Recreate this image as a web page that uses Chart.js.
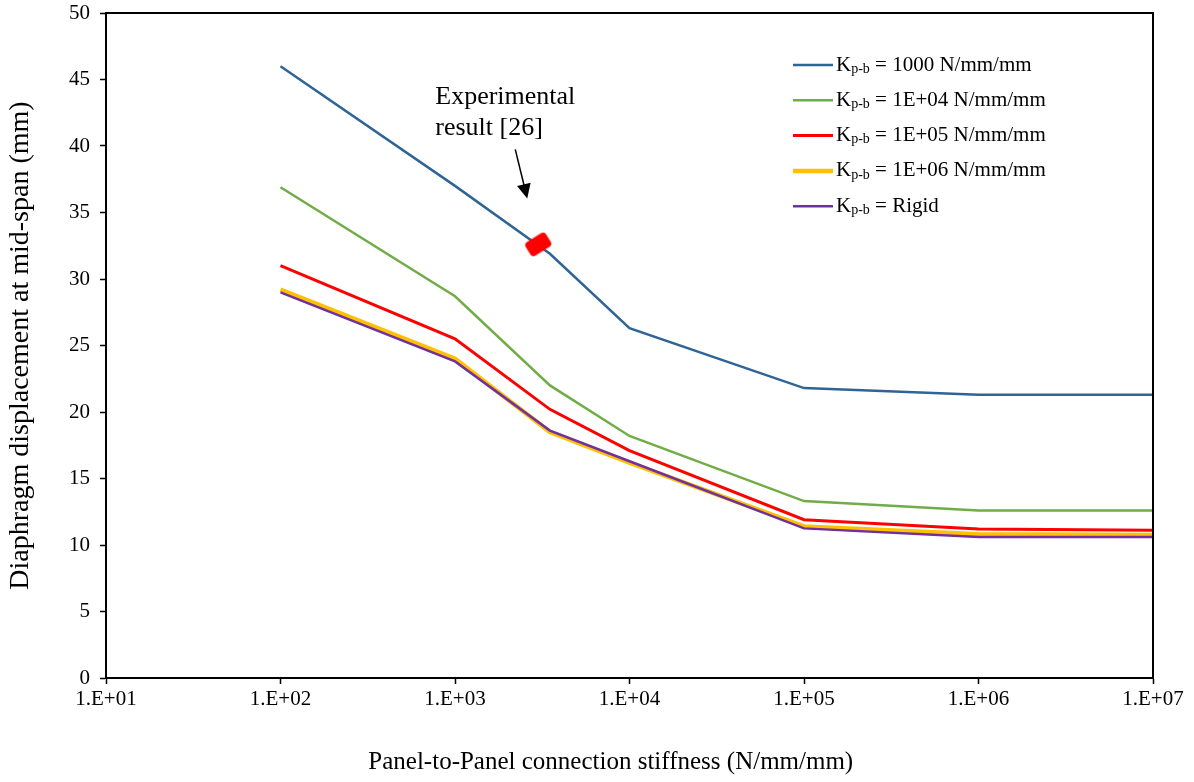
<!DOCTYPE html>
<html>
<head>
<meta charset="utf-8">
<script src="https://cdn.jsdelivr.net/npm/chart.js@4.4.1/dist/chart.umd.min.js"></script>
<style>
  html, body { margin: 0; padding: 0; background: #fff; }
  #wrap { width: 1194px; height: 782px; }
</style>
</head>
<body>
<div id="wrap"><canvas id="chart"></canvas></div>
<script>
// connection stiffness (N/mm/mm)
var stiffness = [100, 1000, 3500, 10000, 100000, 1000000, 10000000];
var xTicks = [1e1, 1e2, 1e3, 1e4, 1e5, 1e6, 1e7];

// mid-span displacement (mm) for each panel-to-beam stiffness
var kpb1000 = [46.0, 37.0, 31.9, 26.3, 21.8, 21.3, 21.3];
var kpb1e4 = [36.9, 28.7, 22.0, 18.2, 13.3, 12.6, 12.6];
var kpb1e5 = [31.0, 25.5, 20.2, 17.1, 11.9, 11.2, 11.1];
var kpb1e6 = [29.2, 24.0, 18.5, 16.2, 11.4, 10.8, 10.75];
var kpbRigid = [29.0, 23.8, 18.6, 16.3, 11.25, 10.6, 10.6];

var seriesNames = ['1000 N/mm/mm', '1E+04 N/mm/mm', '1E+05 N/mm/mm', '1E+06 N/mm/mm', 'Rigid'];
var seriesColors = ['#2e6496', '#70ad47', '#ff0000', '#ffc000', '#7030a0'];

var expX = [3000];
var expY = [32.6];

var FONT = '"Liberation Serif", "Times New Roman", serif';

function toPoints(xs, ys) {
    return xs.map(function(x, i) { return { x: x, y: ys[i] }; });
}

// red rounded box used for the test result
var markerImg = document.createElement('canvas');
markerImg.width = 25;
markerImg.height = 17;
(function() {
    var c = markerImg.getContext('2d');
    c.fillStyle = '#ff0000';
    c.beginPath();
    c.roundRect(0.5, 0.5, 24, 16, 4);
    c.fill();
})();

var seriesData = [kpb1000, kpb1e4, kpb1e5, kpb1e6, kpbRigid];
var widths = [2.5, 2.5, 3, 4.5, 2.5];
var orders = [4, 3, 2, 5, 1];

var datasets = seriesData.map(function(vals, i) {
    return {
        label: 'Kp-b = ' + seriesNames[i],
        data: toPoints(stiffness, vals),
        borderColor: seriesColors[i],
        backgroundColor: seriesColors[i],
        borderWidth: widths[i],
        pointRadius: 0,
        showLine: true,
        tension: 0,
        order: orders[i]
    };
});
datasets.push({
    label: 'Experimental',
    data: toPoints(expX, expY),
    pointStyle: markerImg,
    rotation: -32,
    pointRadius: 12,
    showLine: false,
    order: 0
});

var boxPlugin = {
    id: 'box',
    afterDatasetsDraw: function(chart) {
        var a = chart.chartArea, ctx = chart.ctx;
        ctx.save();
        ctx.strokeStyle = '#000';
        ctx.lineWidth = 2;
        ctx.strokeRect(a.left, a.top, a.right - a.left, a.bottom - a.top);
        ctx.restore();
    }
};

var legendPlugin = {
    id: 'subLegend',
    afterDraw: function(chart) {
        var ctx = chart.ctx;
        ctx.save();
        var x0 = 793, y0 = 65, dy = 35.3;
        for (var i = 0; i < seriesNames.length; i++) {
            var y = y0 + i * dy;
            ctx.strokeStyle = seriesColors[i];
            ctx.lineWidth = widths[i];
            ctx.beginPath();
            ctx.moveTo(x0, y);
            ctx.lineTo(x0 + 40, y);
            ctx.stroke();
            ctx.fillStyle = '#000';
            ctx.textBaseline = 'middle';
            ctx.textAlign = 'left';
            var tx = x0 + 43;
            ctx.font = '21px ' + FONT;
            ctx.fillText('K', tx, y);
            tx += ctx.measureText('K').width;
            ctx.font = '14px ' + FONT;
            ctx.fillText('p-b', tx, y + 4);
            tx += ctx.measureText('p-b').width;
            ctx.font = '21px ' + FONT;
            ctx.fillText(' = ' + seriesNames[i], tx, y);
        }
        ctx.restore();
    }
};

var notePlugin = {
    id: 'note',
    afterDraw: function(chart) {
        var ctx = chart.ctx;
        var px = chart.scales.x.getPixelForValue(expX[0]);
        var py = chart.scales.y.getPixelForValue(expY[0]);
        ctx.save();
        ctx.fillStyle = '#000';
        ctx.font = '26px ' + FONT;
        ctx.textAlign = 'left';
        ctx.textBaseline = 'middle';
        ctx.fillText('Experimental', px - 103, py - 147);
        ctx.fillText('result [26]', px - 103, py - 116);
        // arrow
        var x1 = px - 23, y1 = py - 95, x2 = px - 11, y2 = py - 46;
        var ang = Math.atan2(y2 - y1, x2 - x1);
        ctx.strokeStyle = '#000';
        ctx.lineWidth = 1.5;
        ctx.beginPath();
        ctx.moveTo(x1, y1);
        ctx.lineTo(x2 - 12 * Math.cos(ang), y2 - 12 * Math.sin(ang));
        ctx.stroke();
        ctx.beginPath();
        ctx.moveTo(x2, y2);
        ctx.lineTo(x2 - 16 * Math.cos(ang - 0.45), y2 - 16 * Math.sin(ang - 0.45));
        ctx.lineTo(x2 - 16 * Math.cos(ang + 0.45), y2 - 16 * Math.sin(ang + 0.45));
        ctx.closePath();
        ctx.fill();
        ctx.restore();
    }
};

new Chart(document.getElementById('chart'), {
    type: 'scatter',
    data: { datasets: datasets },
    plugins: [boxPlugin, legendPlugin, notePlugin],
    options: {
        responsive: true,
        maintainAspectRatio: false,
        animation: false,
        layout: { padding: { top: 12, right: 41, left: 0, bottom: 0 } },
        plugins: {
            legend: { display: false },
            tooltip: { enabled: false }
        },
        scales: {
            x: {
                type: 'logarithmic',
                min: 10,
                max: 1e7,
                afterBuildTicks: function(scale) {
                    scale.ticks = xTicks.map(function(v) { return { value: v }; });
                },
                afterFit: function(scale) {
                    scale.height = 104;
                    scale.paddingLeft = 0;
                    scale.paddingRight = 0;
                },
                grid: { drawOnChartArea: false, drawTicks: true, tickLength: 6, tickColor: '#000', tickWidth: 1.5 },
                border: { color: '#000', width: 2 },
                ticks: {
                    color: '#000',
                    font: { family: FONT, size: 21 },
                    padding: 3,
                    maxRotation: 0,
                    autoSkip: false,
                    callback: function(v) {
                        var e = Math.round(Math.log10(v));
                        return '1.E+' + (e < 10 ? '0' : '') + e;
                    }
                },
                title: {
                    display: true,
                    // trailing blanks nudge the centred title a little to the left
                    text: 'Panel-to-Panel connection stiffness (N/mm/mm)\u00a0\u00a0\u00a0\u00a0\u00a0\u00a0',
                    color: '#000',
                    font: { family: FONT, size: 25 },
                    padding: { top: 0, bottom: 5 }
                }
            },
            y: {
                min: 0,
                max: 50,
                afterFit: function(scale) {
                    scale.width = 106;
                    scale.paddingTop = 0;
                    scale.paddingBottom = 0;
                },
                grid: { drawOnChartArea: false, drawTicks: true, tickLength: 6, tickColor: '#000', tickWidth: 1.5 },
                border: { color: '#000', width: 2 },
                ticks: {
                    stepSize: 5,
                    color: '#000',
                    font: { family: FONT, size: 21 },
                    padding: 10
                },
                title: {
                    display: true,
                    text: 'Diaphragm displacement at mid-span (mm)',
                    color: '#000',
                    font: { family: FONT, size: 28 },
                    padding: { top: 4, bottom: 0 }
                }
            }
        }
    }
});
</script>
</body>
</html>
